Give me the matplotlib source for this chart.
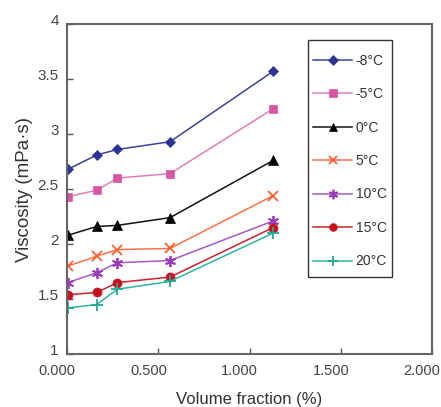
import numpy as np
import matplotlib
matplotlib.use('Agg')
import matplotlib.pyplot as plt
import matplotlib.transforms as mtransforms
from matplotlib.patches import Rectangle

plt.rcParams['font.family'] = ['Liberation Sans', 'DejaVu Sans']

# volume fraction (%)
x = [0.005, 0.163, 0.276, 0.564, 1.129]

labels = ['-8°C', '-5°C', '0°C', '5°C', '10°C', '15°C', '20°C']
v_m8 = [2.68, 2.81, 2.86, 2.93, 3.57]
v_m5 = [2.43, 2.49, 2.60, 2.64, 3.23]
v_0 = [2.08, 2.16, 2.17, 2.24, 2.76]
v_5 = [1.80, 1.89, 1.95, 1.96, 2.44]
v_10 = [1.65, 1.74, 1.83, 1.85, 2.21]
v_15 = [1.54, 1.56, 1.65, 1.70, 2.15]
v_20 = [1.42, 1.45, 1.59, 1.66, 2.10]
series = [v_m8, v_m5, v_0, v_5, v_10, v_15, v_20]

line_cols = ['#3B4396', '#E27DB8', '#111111', '#FF7048', '#A55BC2', '#D0202E', '#2BB5A2']
mark_cols = ['#2B3393', '#D856A6', '#000000', '#FF6030', '#9B3DBB', '#C8101E', '#20A894']
markers = ['D', 's', '^', 'x', (6, 2, 0), 'o', '+']
msizes = [5.5, 6, 7, 7, 8, 6.5, 8]

fig = plt.figure(figsize=(4.41, 4.07), dpi=100)
ax = fig.add_axes([0.152, 0.130, 0.828, 0.811])

for vals, lab, lc, mc, m, ms in zip(series, labels, line_cols, mark_cols, markers, msizes):
    thin = m in ('x', '+') or isinstance(m, tuple)
    ax.plot(x, vals, color=lc, lw=1.1, marker=m, ms=ms, mfc=mc, mec=mc,
            mew=1.3 if thin else 0.5, label=lab)

ax.set_xlim(0, 2)
ax.set_ylim(1, 4)
ax.set_xticks([0, 0.5, 1.0, 1.5, 2.0])
ax.set_xticklabels(['0.000', '0.500', '1.000', '1.500', '2.000'])
ax.set_yticks([1, 1.5, 2, 2.5, 3, 3.5, 4])
ax.set_yticklabels(['1', '1.5', '2', '2.5', '3', '3.5', '4'])
ax.tick_params(direction='in', length=4, width=1, colors='#555555',
               labelcolor='#444444', labelsize=11)
ax.tick_params(axis='x', pad=7, labelsize=10.5)
ax.tick_params(axis='y', pad=6)
for s in ax.spines.values():
    s.set_color('#666666')
    s.set_linewidth(1.5)

# labels sit a bit off their ticks in the original
shift_x = mtransforms.ScaledTranslation(-0.10, 0, fig.dpi_scale_trans)
for t in ax.get_xticklabels():
    t.set_transform(t.get_transform() + shift_x)
shift_y = mtransforms.ScaledTranslation(0, 0.05, fig.dpi_scale_trans)
for t in ax.get_yticklabels():
    t.set_transform(t.get_transform() + shift_y)

ax.set_xlabel('Volume fraction (%)', fontsize=12, color='#333333', labelpad=10)
ax.set_ylabel('Viscosity (mPa·s)', fontsize=13.5, color='#333333', labelpad=3)

leg = ax.legend(loc='upper left', bbox_to_anchor=(0.674, 0.91), fontsize=10,
                frameon=False, handlelength=2.8, labelspacing=1.40, borderpad=0,
                handletextpad=0.25, borderaxespad=0, markerscale=0.85)
for t in leg.get_texts():
    t.set_color('#333333')
ax.add_patch(Rectangle((0.660, 0.233), 0.230, 0.719, transform=ax.transAxes,
                       fill=False, edgecolor='#333333', lw=1.0, zorder=5))

fig.savefig('out.png', dpi=100)
